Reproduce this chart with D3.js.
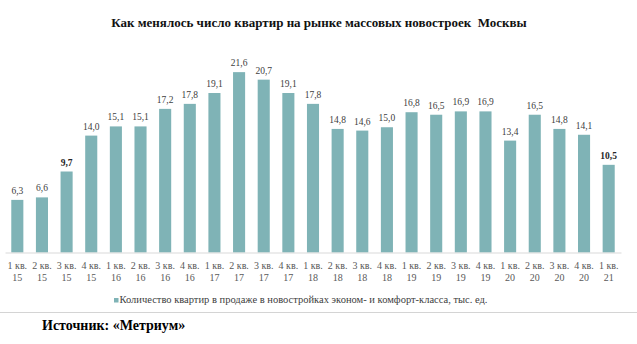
<!DOCTYPE html>
<html lang="ru">
<head>
<meta charset="utf-8">
<script src="https://cdn.jsdelivr.net/npm/d3@7"></script>
<style>
  html, body { margin: 0; padding: 0; background: #fff; }
  svg { display: block; }
  svg text { font-family: "Liberation Serif", "Times New Roman", Times, serif; }
</style>
</head>
<body>
<svg id="chart" width="637" height="344"></svg>
<script>
// Квартал / год для каждой колонки
const quarters = ["1 кв.","2 кв.","3 кв.","4 кв.","1 кв.","2 кв.","3 кв.","4 кв.","1 кв.","2 кв.","3 кв.","4 кв.","1 кв.","2 кв.","3 кв.","4 кв.","1 кв.","2 кв.","3 кв.","4 кв.","1 кв.","2 кв.","3 кв.","4 кв.","1 кв."];
const years = ["15","15","15","15","16","16","16","16","17","17","17","17","18","18","18","18","19","19","19","19","20","20","20","20","21"];
// Количество квартир в продаже, тыс. ед.
const values = [6.3, 6.6, 9.7, 14.0, 15.1, 15.1, 17.2, 17.8, 19.1, 21.6, 20.7, 19.1, 17.8, 14.8, 14.6, 15.0, 16.8, 16.5, 16.9, 16.9, 13.4, 16.5, 14.8, 14.1, 10.5];
// Подписи, выделенные жирным
const boldLabels = [2, 24];

const seriesName = "Количество квартир в продаже в новостройках эконом- и комфорт-класса, тыс. ед.";
const title = "Как менялось число квартир на рынке массовых новостроек  Москвы";
const source = "Источник: «Метриум»";

const svg = d3.select("#chart");
const barColor = "#7fb3b6";

const keys = values.map((v, i) => i);
const x = d3.scaleBand().domain(keys).range([5, 621]).paddingInner(0.51).paddingOuter(0.255);
const y = d3.scaleLinear().domain([0, 25]).range([252.5, 43.75]);

// Заголовок
svg.append("text")
  .attr("x", 319).attr("y", 27)
  .attr("text-anchor", "middle")
  .attr("font-weight", "bold").attr("font-size", 13)
  .attr("fill", "#111")
  .style("white-space", "pre")
  .text(title);

// Столбцы
svg.append("g").selectAll("rect").data(values).join("rect")
  .attr("x", (d, i) => x(i))
  .attr("width", x.bandwidth())
  .attr("y", d => y(d))
  .attr("height", d => y(0) - y(d))
  .attr("fill", barColor);

// Подписи значений
svg.append("g").selectAll("text").data(values).join("text")
  .attr("x", (d, i) => x(i) + x.bandwidth() / 2)
  .attr("y", d => y(d) - 6)
  .attr("text-anchor", "middle")
  .attr("font-size", 9.5)
  .attr("font-weight", (d, i) => boldLabels.includes(i) ? "bold" : "normal")
  .attr("fill", (d, i) => boldLabels.includes(i) ? "#262626" : "#404040")
  .text(d => d3.format(".1f")(d).replace(".", ","));

// Ось категорий
const xAxis = svg.append("g").attr("transform", `translate(0,${y(0)})`)
  .call(d3.axisBottom(x).tickSize(0).tickFormat(""));
xAxis.select(".domain").attr("stroke", "#d9d9d9").attr("stroke-width", 1);
xAxis.selectAll(".tick").each(function(d) {
  const t = d3.select(this).append("text")
    .attr("text-anchor", "middle")
    .attr("font-size", 10)
    .attr("fill", "#595959");
  t.append("tspan").attr("x", 0).attr("y", 16).text(quarters[d]);
  t.append("tspan").attr("x", 0).attr("y", 28.5).text(years[d]);
});

// Легенда
svg.append("rect").attr("x", 114).attr("y", 298).attr("width", 4.5).attr("height", 4.5).attr("fill", barColor);
svg.append("text")
  .attr("x", 119.5).attr("y", 303)
  .attr("font-size", 10.5)
  .attr("fill", "#404040")
  .text(seriesName);

// Разделитель и источник
svg.append("line").attr("x1", 0).attr("x2", 637).attr("y1", 312.5).attr("y2", 312.5)
  .attr("stroke", "#d4d4d4").attr("stroke-width", 1);
svg.append("text")
  .attr("x", 42).attr("y", 330)
  .attr("font-weight", "bold").attr("font-size", 14)
  .attr("fill", "#000")
  .text(source);
</script>
</body>
</html>
